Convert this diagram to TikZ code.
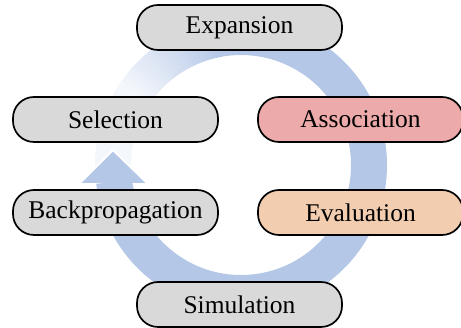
\documentclass[tikz,border=0pt]{standalone}
\usepackage{fontspec}
\setmainfont{Liberation Serif}
\usetikzlibrary{positioning}
\definecolor{ringblue}{RGB}{180,199,231}
\definecolor{boxgray}{RGB}{217,217,217}
\definecolor{assocred}{RGB}{236,170,170}
\definecolor{evalorange}{RGB}{242,205,175}

\begin{document}
\begin{tikzpicture}[x=1pt,y=1pt,node distance=2cm,on grid,
    phase/.style={draw=black,line width=1.7pt,rounded corners=21pt,
      minimum width=205pt,minimum height=45pt,inner sep=0pt,
      font=\fontsize{25.5}{30}\selectfont}]
    \useasboundingbox (0,0) rectangle (461,328);
    \coordinate (c) at (241,163);
    % ring
    \draw[ringblue,line width=36pt] ([shift={(-174:128)}]c) arc (-174:101:128);
    % faded tail
    \foreach \a in {100,...,186}{
        \pgfmathsetmacro\fadeval{\a>145 ? 15 : 15+85*(145-\a)/45}
        \pgfmathsetmacro\aend{\a+1.5}
        \draw[ringblue!\fadeval!white,line width=36pt] ([shift={(\a:128)}]c) arc (\a:\aend:128);
    }
    % arrow head
    \coordinate (headl) at (80,145);
    \coordinate (headtip) at (113,178);
    \coordinate (headr) at (147,145);
    \fill[ringblue] (headl) -- (headtip) -- (headr) -- cycle;
    \draw[white,line width=2pt] (headl) -- (headtip) -- (headr);
    % phases
    \node[phase,fill=boxgray] (expansion) at (239.5,300.5) {Expansion};
    \node[phase,fill=boxgray] [below left=92pt and 124pt of expansion] (selection) {Selection};
    \node[phase,fill=assocred] [right=245pt of selection] (association) {Association};
    \node[phase,fill=boxgray] [below=93pt of selection] (backprop) {Backpropagation};
    \node[phase,fill=evalorange] [right=245pt of backprop] (evaluation) {Evaluation};
    \node[phase,fill=boxgray] [below=277pt of expansion] (simulation) {Simulation};
\end{tikzpicture}
\end{document}
